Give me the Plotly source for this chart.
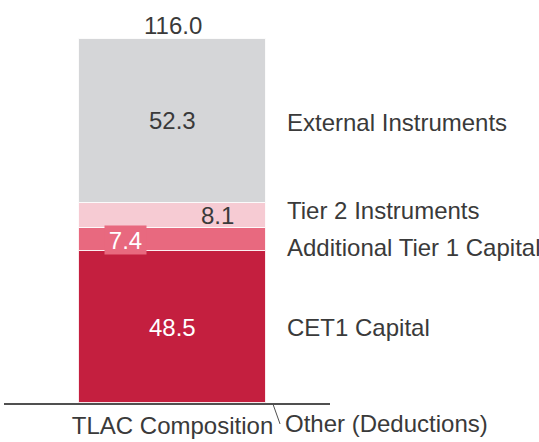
import plotly.graph_objects as go

categories = ["TLAC Composition"]
series_names = ["CET1 Capital", "Additional Tier 1 Capital", "Tier 2 Instruments", "External Instruments"]
series_values = [48.5, 7.4, 8.1, 52.3]
other_name = "Other (Deductions)"
other_value = -0.3
total_label = "116.0"

colors = ["#c41f3f", "#e8697f", "#f6cbd3", "#d5d6d8"]
inner_font_colors = ["white", "white", "#3a3a3a", "#3a3a3a"]
inner_xshift = [0, -47, 45, 0]
inner_bg = [None, "#e8697f", None, None]
right_yshift = [0, -8, 5, -2]

FONT = "Liberation Sans, Arial, sans-serif"
TXT = "#3a3a3a"
FS = 24

fig = go.Figure()
for name, val, col in zip(series_names, series_values, colors):
    fig.add_trace(go.Bar(x=[0], y=[val], name=name, width=[1],
                         marker=dict(color=col, line=dict(color="rgba(255,255,255,0.8)", width=1)),
                         hoverinfo="skip"))
fig.add_trace(go.Bar(x=[0], y=[other_value], name=other_name, width=[1],
                     marker=dict(color="#bbbbbb", line=dict(width=0)), hoverinfo="skip"))

annotations = []
cum = 0
for i, (name, val) in enumerate(zip(series_names, series_values)):
    mid = cum + val / 2
    cum += val
    a = dict(x=0, y=mid, xref="x", yref="y", text=f"{val:.1f}", showarrow=False,
             xshift=inner_xshift[i], font=dict(family=FONT, size=FS, color=inner_font_colors[i]))
    if inner_bg[i]:
        a.update(bgcolor=inner_bg[i], borderpad=0, width=41, height=28)
    annotations.append(a)
    annotations.append(dict(x=0.5, y=mid, xref="x", yref="y", text=name, showarrow=False,
                            xanchor="left", xshift=19, yshift=right_yshift[i],
                            font=dict(family=FONT, size=FS, color=TXT)))
annotations.append(dict(x=0, y=cum, xref="x", yref="y", text=total_label, showarrow=False,
                        yanchor="bottom", yshift=-2, font=dict(family=FONT, size=FS, color=TXT)))
annotations.append(dict(x=0.5, y=-0.052, xref="x", yref="paper", text=other_name, showarrow=False,
                        xanchor="left", yanchor="middle", xshift=17,
                        font=dict(family=FONT, size=FS, color=TXT)))

fig.update_layout(
    width=539, height=442,
    margin=dict(l=4, r=0, t=0, b=39),
    paper_bgcolor="white", plot_bgcolor="white",
    barmode="relative", bargap=0,
    showlegend=False,
    annotations=annotations,
    shapes=[dict(type="line", xref="x", yref="paper", x0=0.535, y0=0, x1=0.575, y1=-0.052,
                 line=dict(color="#505050", width=1))],
    xaxis=dict(domain=[0, 326 / 535], range=[-0.901, 0.842], tickvals=[0], ticktext=categories,
               showline=True, linecolor="#505050", linewidth=1.5, showgrid=False, zeroline=False,
               tickfont=dict(family=FONT, size=FS, color=TXT), ticks="", fixedrange=True),
    yaxis=dict(range=[0, 128.75], showgrid=False, zeroline=False, showticklabels=False,
               showline=False, fixedrange=True),
)

fig.write_html("out.html", config={"displayModeBar": False},
               post_script="document.body.style.margin='0';")
